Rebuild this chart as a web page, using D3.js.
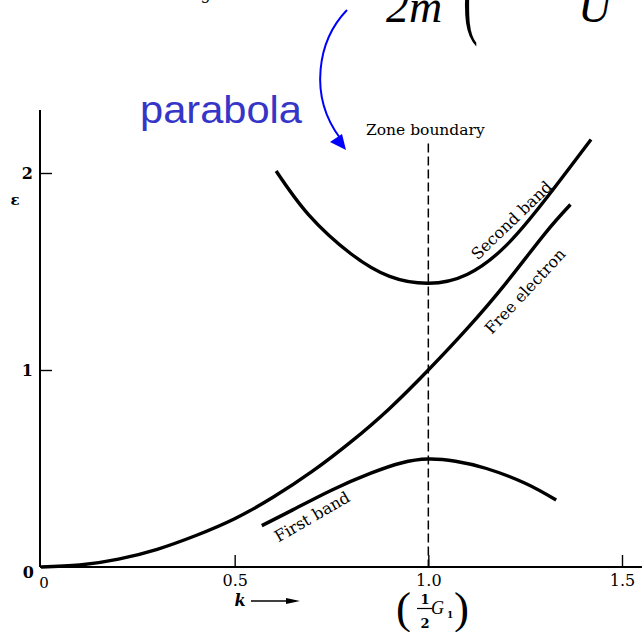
<!DOCTYPE html>
<html>
<head>
<meta charset="utf-8">
<script src="https://cdn.jsdelivr.net/npm/d3@7"></script>
<style>
  html, body { margin: 0; padding: 0; background: #fff; }
  svg { display: block; }
</style>
</head>
<body>
<svg id="chart" width="642" height="632"></svg>
<script>
// ---------------- data ----------------
const freeK   = [0, 0.1, 0.2, 0.3, 0.4, 0.5, 0.6, 0.7, 0.8, 0.9, 1.0, 1.1, 1.2, 1.3, 1.367];
const freeE   = [0, 0.01, 0.04, 0.09, 0.16, 0.245, 0.355, 0.485, 0.635, 0.805, 1.0, 1.21, 1.44, 1.69, 1.84];

const firstK  = [0.57, 0.65, 0.75, 0.85, 0.93, 1.0, 1.07, 1.15, 1.25, 1.33];
const firstE  = [0.21, 0.29, 0.39, 0.475, 0.528, 0.548, 0.537, 0.50, 0.425, 0.34];

const secondK = [0.607, 0.69, 0.8, 0.9, 1.0, 1.1, 1.2, 1.3, 1.42];
const secondE = [2.01, 1.79, 1.59, 1.475, 1.44, 1.485, 1.63, 1.86, 2.17];

const xTicks = [0.5, 1.0, 1.5];
const yTicks = [1, 2];
const zoneK  = 1.0;

// ---------------- layout ----------------
const svg = d3.select("#chart");
const x = d3.scaleLinear().domain([0, 1.5]).range([41, 622]);
const y = d3.scaleLinear().domain([0, 2]).range([567, 173]);
const serif = "'DejaVu Serif', serif";
const times = "'Liberation Serif', 'Times New Roman', serif";

svg.append("rect").attr("width", 642).attr("height", 632).attr("fill", "#fff");

// ---------------- axes ----------------
const xAxis = d3.axisBottom(x).tickValues(xTicks).tickSize(-12).tickPadding(8)
  .tickFormat(d3.format(".1f"));
const gx = svg.append("g").attr("transform", `translate(0,${y(0)})`).call(xAxis);
gx.select(".domain").remove();
gx.selectAll(".tick line").attr("stroke", "#000").attr("stroke-width", 1.4);
gx.selectAll(".tick text").attr("font-family", serif).attr("font-size", 16).attr("fill", "#000");

const yAxis = d3.axisLeft(y).tickValues(yTicks).tickSize(-12).tickPadding(7)
  .tickFormat(d3.format("d"));
const gy = svg.append("g").attr("transform", `translate(${x(0) - 1},0)`).call(yAxis);
gy.select(".domain").remove();
gy.selectAll(".tick line").attr("stroke", "#000").attr("stroke-width", 1.4);
gy.selectAll(".tick text").attr("font-family", serif).attr("font-size", 16).attr("font-weight", "bold").attr("fill", "#000");

// axis lines
svg.append("line").attr("x1", x(0) - 1).attr("x2", 642).attr("y1", y(0)).attr("y2", y(0))
  .attr("stroke", "#000").attr("stroke-width", 2.2);
svg.append("line").attr("x1", x(0) - 1).attr("x2", x(0) - 1).attr("y1", y(2.32)).attr("y2", y(0))
  .attr("stroke", "#000").attr("stroke-width", 2);

// origin labels
svg.append("text").attr("x", 34).attr("y", 578).attr("text-anchor", "end")
  .attr("font-family", serif).attr("font-size", 16).attr("font-weight", "bold").text("0");
svg.append("text").attr("x", 44).attr("y", 588).attr("text-anchor", "middle")
  .attr("font-family", serif).attr("font-size", 15).text("0");

// epsilon label
svg.append("text").attr("x", 15).attr("y", 205).attr("text-anchor", "middle")
  .attr("font-family", serif).attr("font-size", 15).attr("font-weight", "bold").text("ε");

// k arrow label
svg.append("text").attr("x", 240).attr("y", 606).attr("text-anchor", "middle")
  .attr("font-family", serif).attr("font-size", 16).attr("font-style", "italic").attr("font-weight", "bold").text("k");
svg.append("line").attr("x1", 251).attr("x2", 290).attr("y1", 601).attr("y2", 601)
  .attr("stroke", "#000").attr("stroke-width", 1.3);
svg.append("path").attr("d", "M286,598 L300,601 L286,604 Z").attr("fill", "#000");

// (1/2 G1) label
const gl = svg.append("g").attr("font-family", serif).attr("fill", "#000");
gl.append("text").attr("x", 396).attr("y", 623)
  .attr("font-family", times).attr("font-size", 45).text("(");
gl.append("text").attr("x", 454).attr("y", 623)
  .attr("font-family", times).attr("font-size", 45).text(")");
gl.append("text").attr("x", 425).attr("y", 604).attr("text-anchor", "middle")
  .attr("font-size", 13).attr("font-weight", "bold").text("1");
gl.append("line").attr("x1", 417).attr("x2", 432).attr("y1", 608.5).attr("y2", 608.5)
  .attr("stroke", "#000").attr("stroke-width", 1.2);
gl.append("text").attr("x", 425).attr("y", 628).attr("text-anchor", "middle")
  .attr("font-size", 13).attr("font-weight", "bold").text("2");
gl.append("text").attr("x", 431).attr("y", 614)
  .attr("font-family", times).attr("font-size", 18).attr("font-style", "italic").text("G");
gl.append("text").attr("x", 447).attr("y", 618)
  .attr("font-size", 9).attr("font-weight", "bold").text("1");

// ---------------- zone boundary ----------------
svg.append("line").attr("x1", x(zoneK)).attr("x2", x(zoneK))
  .attr("y1", y(2.15)).attr("y2", y(0))
  .attr("stroke", "#000").attr("stroke-width", 1.5).attr("stroke-dasharray", "9,4");
svg.append("text").attr("x", x(zoneK) - 3).attr("y", 135).attr("text-anchor", "middle")
  .attr("font-family", serif).attr("font-size", 15.5).text("Zone boundary");

// ---------------- curves ----------------
const line = d3.line().x(d => x(d[0])).y(d => y(d[1])).curve(d3.curveNatural);
const series = [
  d3.zip(freeK, freeE),
  d3.zip(firstK, firstE),
  d3.zip(secondK, secondE)
];
svg.selectAll("path.band").data(series).join("path").attr("class", "band")
  .attr("d", line).attr("fill", "none").attr("stroke", "#000")
  .attr("stroke-width", 3.4).attr("stroke-linecap", "butt");

// curve labels
const labels = [
  { text: "Second band",   k: 1.215, e: 1.76, rot: -44 },
  { text: "Free electron", k: 1.25,  e: 1.40, rot: -47 },
  { text: "First band",    k: 0.70,  e: 0.255, rot: -30 }
];
svg.selectAll("text.clabel").data(labels).join("text").attr("class", "clabel")
  .attr("transform", d => `translate(${x(d.k)},${y(d.e)}) rotate(${d.rot})`)
  .attr("text-anchor", "middle").attr("dominant-baseline", "central")
  .attr("font-family", serif).attr("font-size", 16).text(d => d.text);

// ---------------- annotation at top ----------------
svg.append("text").attr("x", 140).attr("y", 123)
  .attr("font-family", "'Liberation Sans', Arial, sans-serif").attr("font-size", 38)
  .attr("textLength", 162).attr("lengthAdjust", "spacingAndGlyphs")
  .attr("fill", "#3535c8").text("parabola");
svg.append("path").attr("d", "M347,10 C318,40 308,95 340,138")
  .attr("fill", "none").attr("stroke", "#0000ff").attr("stroke-width", 2);
svg.append("path").attr("d", "M330,142 L342,134 L346,150 Z").attr("fill", "#0000ff");

svg.append("text").attr("x", 386).attr("y", 22).attr("font-family", times)
  .attr("font-size", 46).attr("font-style", "italic").text("2m");
svg.append("text").attr("transform", "translate(463,26.5) scale(1.3,2.7)")
  .attr("font-family", times).attr("font-size", 34).text("(");
svg.append("text").attr("x", 578).attr("y", 22).attr("font-family", times)
  .attr("font-size", 46).attr("font-style", "italic").text("U");
svg.append("text").attr("x", 202).attr("y", -1).attr("font-family", times)
  .attr("font-size", 18).attr("font-style", "italic").text("g");
</script>
</body>
</html>
